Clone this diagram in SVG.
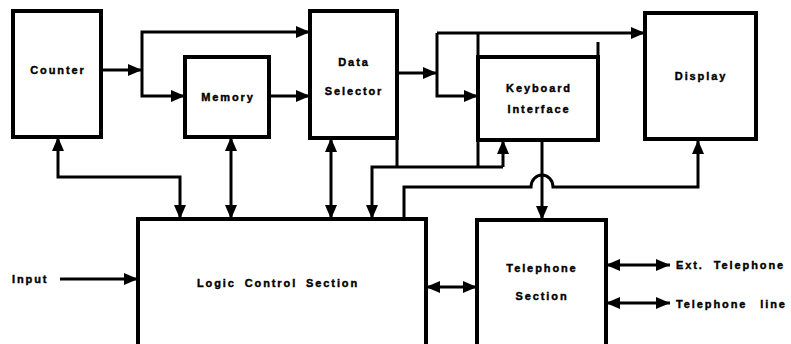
<svg xmlns="http://www.w3.org/2000/svg" width="791" height="344" viewBox="0 0 791 344">
<style>
.box{fill:#fff;stroke:#000;stroke-width:4}
.ln{fill:none;stroke:#000;stroke-width:3}
.ar{marker-end:url(#ah)}
.bi{marker-start:url(#ah);marker-end:url(#ah)}
text{font-family:"Liberation Sans",Arial,sans-serif;font-weight:bold;font-size:11px;letter-spacing:1.9px;fill:#000;stroke:#000;stroke-width:0.4}
.c{text-anchor:middle}
</style>
<defs>
<marker id="ah" markerUnits="userSpaceOnUse" markerWidth="15" markerHeight="12" refX="14" refY="6" orient="auto-start-reverse" viewBox="0 0 15 12">
<path d="M0,0 L14,6 L0,12 z" fill="#000"/>
</marker>
</defs>
<rect width="791" height="344" fill="#fff"/>
<g id="connectors">
<path class="ln ar" d="M101,70 H142"/>
<path class="ln ar" d="M142,70 V32 H310"/>
<path class="ln ar" d="M142,70 V96 H185"/>
<path class="ln ar" d="M269,96 H310"/>
<path class="ln ar" d="M397,73 H437"/>
<path class="ln" d="M437,73 V33"/>
<path class="ln ar" d="M437,33 H645"/>
<path class="ln" d="M645,33 H657"/>
<path class="ln ar" d="M437,73 V96 H478"/>
<path class="ln" d="M478,33 V57"/>
<path class="ln" d="M598,42 V57"/>
<path class="ln bi" d="M58,137 V177 H180 V219"/>
<path class="ln bi" d="M231,137 V219"/>
<path class="ln bi" d="M331,138 V219"/>
<path class="ln" d="M397,138 V167"/>
<path class="ln" d="M478,140 V167"/>
<path class="ln ar" d="M503,167 H372 V219"/>
<path class="ln ar" d="M503,167 V140"/>
<path class="ln ar" d="M404,219 V187 H531 A11,12 0 0 1 553,187 H698 V140"/>
<path class="ln ar" d="M542,140 V220"/>
<path class="ln ar" d="M60,279 H138"/>
<path class="ln bi" d="M426,287 H477"/>
<path class="ln bi" d="M606,265 H670"/>
<path class="ln bi" d="M606,303 H670"/>
</g>
<g id="counter"><rect class="box" x="13" y="11" width="88" height="126"/><text class="c" x="58" y="74">Counter</text></g>
<g id="memory"><rect class="box" x="185" y="57" width="84" height="80"/><text class="c" x="228" y="101">Memory</text></g>
<g id="data-selector"><rect class="box" x="310" y="11" width="87" height="127"/><text class="c" x="354" y="66">Data</text><text class="c" x="354" y="95">Selector</text></g>
<g id="keyboard-interface"><rect class="box" x="478" y="57" width="120" height="83"/><text class="c" x="539" y="92">Keyboard</text><text class="c" x="539" y="113">Interface</text></g>
<g id="display"><rect class="box" x="645" y="13" width="111" height="126"/><text class="c" x="701" y="80">Display</text></g>
<g id="logic-control"><rect class="box" x="138" y="219" width="288" height="130"/><text class="c" x="278" y="287" style="word-spacing:4px">Logic Control Section</text></g>
<g id="telephone-section"><rect class="box" x="477" y="220" width="129" height="129"/><text class="c" x="542" y="272">Telephone</text><text class="c" x="542" y="300">Section</text></g>
<g id="labels">
<text x="12" y="283">Input</text>
<text x="676" y="269" style="word-spacing:5px">Ext. Telephone</text>
<text x="676" y="308" style="word-spacing:8px">Telephone line</text>
</g>
</svg>
